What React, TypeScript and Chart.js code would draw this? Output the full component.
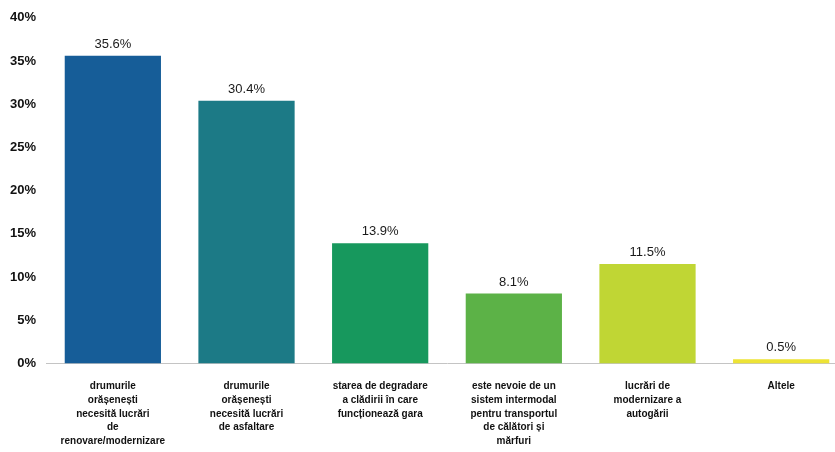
import React, { useEffect, useRef } from "react";
import { Chart, registerables } from "chart.js";

Chart.register(...registerables);

const categories: string[][] = [
  ["drumurile", "orășenești", "necesită lucrări", "de", "renovare/modernizare"],
  ["drumurile", "orășenești", "necesită lucrări", "de asfaltare"],
  ["starea de degradare", "a clădirii în care", "funcționează gara"],
  ["este nevoie de un", "sistem intermodal", "pentru transportul", "de călători și", "mărfuri"],
  ["lucrări de", "modernizare a", "autogării"],
  ["Altele"],
];
const values: number[] = [35.6, 30.4, 13.9, 8.1, 11.5, 0.5];
const barColors: string[] = ["#165d98", "#1c7a86", "#17985d", "#5cb247", "#c0d634", "#ede335"];
const yTicks: number[] = [0, 5, 10, 15, 20, 25, 30, 35, 40];

const FONT = "'Liberation Sans', Arial, sans-serif";

const valueLabels = {
  id: "valueLabels",
  afterDatasetsDraw(chart: any) {
    const ctx = chart.ctx;
    const meta = chart.getDatasetMeta(0);
    ctx.save();
    ctx.font = `13px ${FONT}`;
    ctx.fillStyle = "#1a1a1a";
    ctx.textAlign = "center";
    ctx.textBaseline = "bottom";
    meta.data.forEach((bar: any, i: number) => {
      ctx.fillText(values[i].toFixed(1) + "%", bar.x, bar.y - 5);
    });
    ctx.restore();
  },
};

export default function App() {
  const ref = useRef<HTMLCanvasElement>(null);
  useEffect(() => {
    document.body.style.margin = "0";
    document.body.style.overflow = "hidden";
    const chart = new Chart(ref.current!, {
      type: "bar",
      data: {
        labels: categories,
        datasets: [
          {
            data: values,
            backgroundColor: barColors,
            barPercentage: 0.72,
            categoryPercentage: 1,
          },
        ],
      },
      options: {
        animation: false,
        responsive: false,
        maintainAspectRatio: false,
        layout: { padding: { top: 9, right: 4, left: 0, bottom: -12 } },
        plugins: { legend: { display: false }, tooltip: { enabled: false } },
        scales: {
          x: {
            grid: { display: false, drawTicks: false },
            border: { display: true, color: "#c4c4c4" },
            ticks: {
              color: "#111",
              font: { family: FONT, size: 10, weight: "bold", lineHeight: 1.37 },
              maxRotation: 0,
              autoSkip: false,
              padding: 16,
            },
          },
          y: {
            min: 0,
            max: 40,
            afterBuildTicks: (axis: any) => {
              axis.ticks = yTicks.map((v) => ({ value: v }));
            },
            grid: { display: false, drawTicks: false },
            border: { display: false },
            ticks: {
              color: "#111",
              font: { family: FONT, size: 13, weight: "bold" },
              padding: 10,
              callback: (v: any) => v + "%",
            },
          },
        },
      },
      plugins: [valueLabels],
    });
    return () => chart.destroy();
  }, []);
  return (
    <div style={{ position: "absolute", left: 0, top: 0, width: 852, height: 452 }}>
      <canvas ref={ref} width={852} height={452} style={{ width: 852, height: 452 }} />
    </div>
  );
}
